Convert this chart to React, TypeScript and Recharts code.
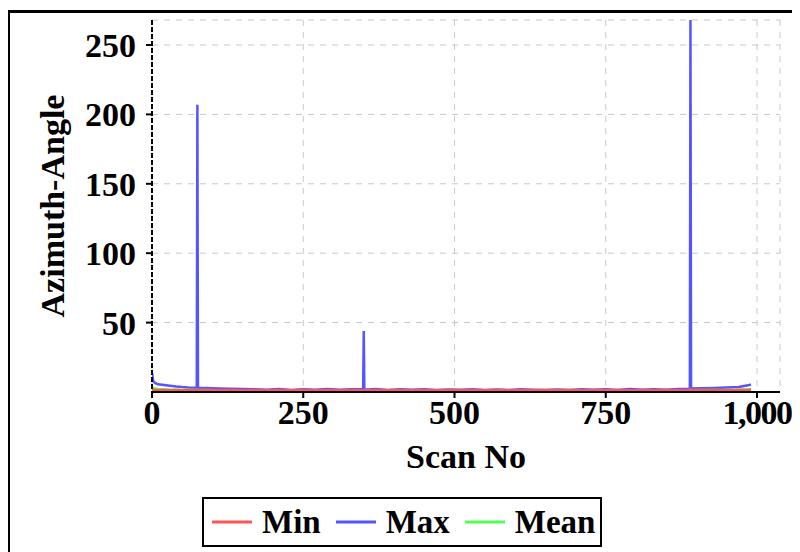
import React from "react";
import { CartesianGrid, Legend, Line, LineChart, XAxis, YAxis } from "recharts";

// scan numbers (x) and per-scan azimuth angle stats
const scanNo = [
    0, 2, 5, 10, 20, 30, 40, 50, 60, 74, 75, 76, 90, 110, 130, 150, 170, 190, 210, 230, 250, 270, 290, 310, 330,
    349, 350, 351, 370, 390, 410, 430, 450, 470, 490, 510, 530, 550, 570, 590, 610, 630, 650, 670, 690, 710, 730,
    750, 770, 790, 810, 830, 850, 870, 889, 890, 891, 910, 930, 950, 970, 985, 990,
];
const maxAngle = [
    14, 8, 6.5, 5.5, 5, 4.5, 4, 3.6, 3.3, 3.1, 207, 3, 2.8, 2.5, 2.3, 2.1, 2, 1.6, 2.1, 1.5, 2, 1.7, 2.2, 1.6, 2,
    1.9, 44, 1.7, 2.1, 1.5, 1.9, 1.6, 2, 1.5, 1.8, 1.6, 2, 1.4, 1.8, 1.5, 1.9, 1.6, 1.4, 1.8, 1.5, 2, 1.6,
    1.9, 1.5, 2.1, 1.6, 2, 1.7, 2.2, 2.3, 268, 2.5, 2.7, 2.9, 3.2, 3.6, 4.8, 5.4,
];
const minAngle = [
    1.3, 1.2, 1.2, 1.1, 1.2, 1.1, 1.2, 1.1, 1.2, 1.1, 1.2, 1.1, 1.2, 1.1, 1.2, 1.1, 1.2, 1.1, 1.2, 1.1, 1.2, 1.1, 1.2, 1.1, 1.2,
    1.1, 1.2, 1.1, 1.2, 1.1, 1.2, 1.1, 1.2, 1.1, 1.2, 1.1, 1.2, 1.1, 1.2, 1.1, 1.2, 1.1, 1.2, 1.1, 1.2, 1.1, 1.2,
    1.1, 1.2, 1.1, 1.2, 1.1, 1.2, 1.1, 1.2, 1.1, 1.2, 1.1, 1.2, 1.1, 1.2, 1.3, 1.3,
];
const meanAngle = [
    3.5, 2.8, 2.5, 2.2, 1.9, 1.7, 1.6, 1.5, 1.4, 1.4, 1.6, 1.4, 1.4, 1.3, 1.3, 1.3, 1.3, 1.2, 1.3, 1.2, 1.3, 1.2, 1.3, 1.2, 1.3,
    1.2, 1.3, 1.2, 1.3, 1.2, 1.3, 1.2, 1.3, 1.2, 1.3, 1.2, 1.3, 1.2, 1.3, 1.2, 1.3, 1.2, 1.3, 1.2, 1.3, 1.2, 1.3,
    1.2, 1.3, 1.2, 1.3, 1.2, 1.3, 1.2, 1.3, 1.6, 1.3, 1.4, 1.4, 1.5, 1.6, 1.9, 2.1,
];

const xTicks = [0, 250, 500, 750, 1000];
const yTicks = [50, 100, 150, 200, 250];

const series = [
    { key: "min", name: "Min", color: "#ff5555" },
    { key: "max", name: "Max", color: "#5555ff" },
    { key: "mean", name: "Mean", color: "#55ff55" },
];

const data = scanNo.map((scan, i) => ({
    scan,
    min: minAngle[i],
    max: maxAngle[i],
    mean: meanAngle[i],
}));

const FONT = "'Liberation Serif', serif";
const tickStyle = { fontFamily: FONT, fontWeight: 700, fontSize: 34, fill: "#000" };

const XTick = (props: any) => {
    const { x, y, payload } = props;
    const label = payload.value.toLocaleString("en-US");
    // the wide label is a bit narrower in the original face
    const wide = label.length > 3;
    return (
        <text
            x={x}
            y={y}
            dy="0.71em"
            textAnchor="middle"
            style={{ ...tickStyle, letterSpacing: wide ? -1.5 : 0 }}
        >
            {label}
        </text>
    );
};

const YLabel = (props: any) => {
    const { viewBox } = props;
    const x = viewBox.x + 42;
    const y = viewBox.y + viewBox.height / 2;
    return (
        <text
            x={x}
            y={y}
            transform={`rotate(-90, ${x}, ${y})`}
            textAnchor="middle"
            dominantBaseline="central"
            style={tickStyle}
        >
            Azimuth-Angle
        </text>
    );
};

const XLabel = (props: any) => {
    const { viewBox } = props;
    return (
        <text x={viewBox.x + viewBox.width / 2} y={viewBox.y + 76} textAnchor="middle" style={tickStyle}>
            Scan No
        </text>
    );
};

const LegendBox = () => (
    <div
        style={{
            display: "flex",
            alignItems: "center",
            border: "2px solid #000",
            background: "#fff",
            height: 46,
            width: 396,
            boxSizing: "content-box",
            fontFamily: FONT,
            fontWeight: 700,
            fontSize: 33,
            color: "#000",
        }}
    >
        {series.map((s) => (
            <div key={s.key} style={{ display: "flex", alignItems: "center", marginLeft: 8 }}>
                <svg width={40} height={4}>
                    <line x1={0} y1={2} x2={40} y2={2} stroke={s.color} strokeWidth={3} />
                </svg>
                <span style={{ marginLeft: 10, marginRight: 7, lineHeight: "46px" }}>{s.name}</span>
            </div>
        ))}
    </div>
);

export default function App() {
    return (
        <div
            style={{
                border: "3px solid #000",
                width: 787,
                height: 540,
                marginTop: 2,
                marginLeft: -1,
                position: "relative",
                background: "#fff",
            }}
        >
            <LineChart
                width={810}
                height={537}
                data={data}
                margin={{ top: 7, right: 40, left: 0, bottom: 0 }}
            >
                <CartesianGrid stroke="#c8c8c8" strokeDasharray="6 6" />
                <XAxis
                    dataKey="scan"
                    type="number"
                    domain={[0, 1038]}
                    ticks={xTicks}
                    allowDataOverflow
                    tick={<XTick />}
                    axisLine={{ stroke: "#000", strokeWidth: 2 }}
                    tickLine={{ stroke: "#000", strokeWidth: 2 }}
                    tickSize={6}
                    tickMargin={2}
                    height={158}
                    label={<XLabel />}
                />
                <YAxis
                    type="number"
                    domain={[0, 268]}
                    ticks={yTicks}
                    allowDataOverflow
                    tick={tickStyle}
                    axisLine={{ stroke: "#000", strokeWidth: 2, strokeDasharray: "5 2" }}
                    tickLine={{ stroke: "#000", strokeWidth: 2 }}
                    tickSize={6}
                    tickMargin={10}
                    width={142}
                    label={<YLabel />}
                />
                <Legend
                    layout="horizontal"
                    verticalAlign="middle"
                    wrapperStyle={{ top: 484, left: 192, width: 400 }}
                    content={<LegendBox />}
                />
                <Line type="linear" dataKey="max" name="Max" stroke="#5555ff" strokeWidth={2.5} dot={false} isAnimationActive={false} />
                <Line type="linear" dataKey="mean" name="Mean" stroke="#55ff55" strokeWidth={2.5} dot={false} isAnimationActive={false} />
                <Line type="linear" dataKey="min" name="Min" stroke="#ff5555" strokeWidth={3} dot={false} isAnimationActive={false} />
            </LineChart>
        </div>
    );
}
